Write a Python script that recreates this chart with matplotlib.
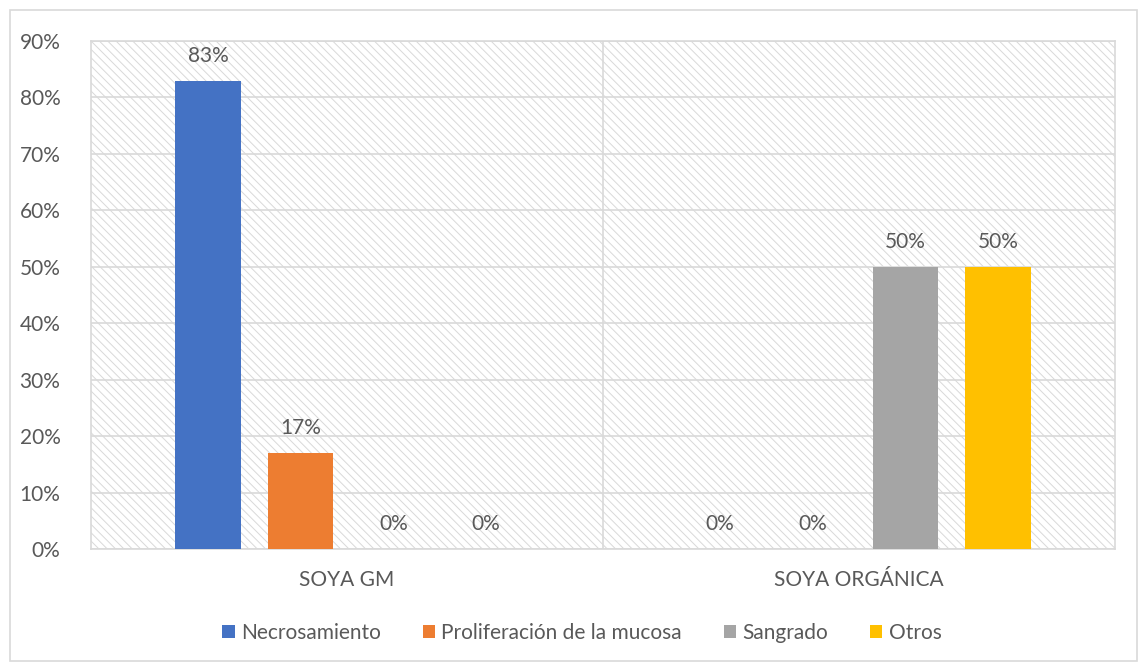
import numpy as np
import matplotlib.pyplot as plt
from matplotlib.patches import Rectangle

plt.rcParams['font.family'] = ['Lato', 'DejaVu Sans']
plt.rcParams['hatch.color'] = '#d9d9d9'
plt.rcParams['hatch.linewidth'] = 0.7

groups = ['SOYA GM', 'SOYA ORGÁNICA']
series = ['Necrosamiento', 'Proliferación de la mucosa', 'Sangrado', 'Otros']
values = [
    [83, 0],   # Necrosamiento
    [17, 0],   # Proliferación de la mucosa
    [0, 50],   # Sangrado
    [0, 50],   # Otros
]
colors = ['#4472c4', '#ed7d31', '#a5a5a5', '#ffc000']
yticks = [0, 10, 20, 30, 40, 50, 60, 70, 80, 90]

txt = '#595959'
grid = '#d9d9d9'
fs = 15

fig = plt.figure(figsize=(11.4, 6.64), dpi=100)
ax = fig.add_axes([91/1140, 1 - 549/664, (1115 - 91)/1140, (549 - 41)/664])

# outer chart border
fig.patches.append(Rectangle((10/1140, 3/664), 1127/1140, 651/664, transform=fig.transFigure,
                             fill=False, edgecolor=grid, linewidth=1.2))

# hatched plot area
ax.add_patch(Rectangle((0, 0), 1, 1, transform=ax.transAxes, facecolor='white',
                       edgecolor=grid, hatch='\\\\\\\\', linewidth=0, zorder=0))

x = np.arange(len(groups))
step = 0.181
width = 0.127
for i, (name, vals, c) in enumerate(zip(series, values, colors)):
    pos = x + (i - 1.5) * step
    ax.bar(pos, vals, width, color=c, label=name, zorder=3)
    for p, v in zip(pos, vals):
        ax.text(p, v + 4.4, f'{v}%', ha='center', va='center', fontsize=fs, color=txt, zorder=4)

ax.set_xlim(-0.5, 1.5)
ax.set_ylim(0, 90)
ax.set_yticks(yticks)
ax.set_yticklabels([f'{t}%' for t in yticks])
ax.set_xticks(x)
ax.set_xticklabels(groups)
ax.tick_params(axis='both', length=0, labelsize=fs, colors=txt)
ax.tick_params(axis='y', pad=22)
ax.tick_params(axis='x', pad=15)
ax.yaxis.grid(True, color=grid, linewidth=1.2, zorder=1)
ax.set_axisbelow(True)
ax.axvline(0.5, color=grid, linewidth=1.2, zorder=1)
for s in ax.spines.values():
    s.set_color(grid)
    s.set_linewidth(1.2)

fig.legend(loc='center', bbox_to_anchor=(582/1140, 1 - 633/664), ncol=4, frameon=False,
           fontsize=fs, handlelength=0.6, handleheight=0.6, handletextpad=0.3,
           columnspacing=2.0, labelcolor=txt)

fig.savefig('out.png', dpi=100)
